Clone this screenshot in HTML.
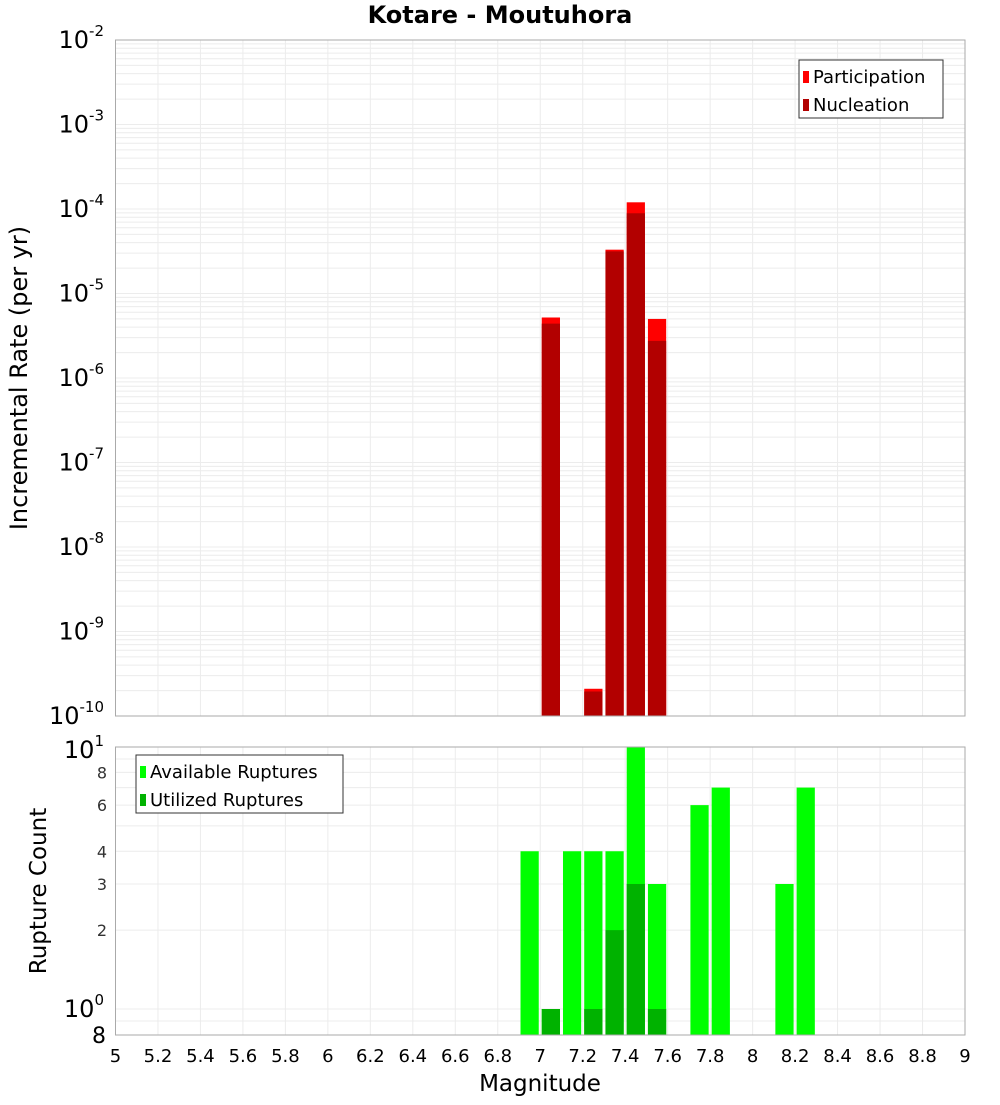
<!DOCTYPE html>
<html><head><meta charset="utf-8"><style>
body{margin:0;background:#fff;font-family:"Liberation Sans","DejaVu Sans",sans-serif}
</style></head><body>
<svg id="c" width="1000" height="1100" xmlns="http://www.w3.org/2000/svg" font-family="DejaVu Sans, Liberation Sans, sans-serif">
<text x="500" y="23" text-anchor="middle" font-size="24" font-weight="bold">Kotare - Moutuhora</text>
<g id="topg"></g><g id="botg"></g>
<text transform="translate(27,378) rotate(-90)" text-anchor="middle" font-size="24">Incremental Rate (per yr)</text>
<text transform="translate(46,891) rotate(-90)" text-anchor="middle" font-size="23">Rupture Count</text>
<text x="540" y="1091" text-anchor="middle" font-size="23">Magnitude</text>
</svg>
<script>
const mags=[7.05,7.25,7.35,7.45,7.55];
const participation=[5.2e-6,2.1e-10,3.3e-5,1.2e-4,5.0e-6];
const nucleation=[4.4e-6,1.95e-10,3.15e-5,8.9e-5,2.75e-6];
const countMags=[6.95,7.05,7.15,7.25,7.35,7.45,7.55,7.75,7.85,8.15,8.25];
const available=[4,1,4,4,4,10,3,6,7,3,7];
const utilized=[0,1,0,1,2,3,1,0,0,0,0];
const xTicks=[5,5.2,5.4,5.6,5.8,6,6.2,6.4,6.6,6.8,7,7.2,7.4,7.6,7.8,8,8.2,8.4,8.6,8.8,9];
const topExps=[-10,-9,-8,-7,-6,-5,-4,-3,-2];
const botTicks=[2,3,4,6,8];
const NS="http://www.w3.org/2000/svg";
const L=115.5,R=965,T1=40,B1=716,T2=747,B2=1035;
const xs=m=>L+(m-5)/4*(R-L);
const y1=v=>B1-(Math.log10(v)+10)/8*(B1-T1);
const y2=v=>1009-Math.log10(v)*262;
function el(p,t,a){const e=document.createElementNS(NS,t);for(const k in a)e.setAttribute(k,a[k]);p.appendChild(e);return e;}
const topG=document.getElementById('topg'),botG=document.getElementById('botg');
for(const e of topExps){for(let k=1;k<10;k++){if(e==-2&&k>1)break;const y=y1(k*Math.pow(10,e));const g=el(topG,'line',{x1:L,x2:R,y1:y,y2:y,stroke:'#ececec','stroke-width':1});

}}
for(const m of xTicks){const g=el(topG,'line',{x1:xs(m),x2:xs(m),y1:T1,y2:B1,stroke:'#ececec'});


const g2=el(botG,'line',{x1:xs(m),x2:xs(m),y1:T2,y2:B2,stroke:'#ececec'});


const t=el(botG,'text',{x:xs(m),y:1062,'text-anchor':'middle','font-size':18});t.textContent=m;

}
for(let k=1;k<=10;k++){const y=y2(k);const g=el(botG,'line',{x1:L,x2:R,y1:y,y2:y,stroke:'#ececec'});

}
const g9=el(botG,'line',{x1:L,x2:R,y1:y2(0.9),y2:y2(0.9),stroke:'#ececec'});


mags.forEach((m,i)=>{const x0=xs(m-0.05)+1.5,w=xs(m+0.05)-xs(m-0.05)-3;
const p=el(topG,'rect',{x:x0,y:y1(participation[i]),width:w,height:B1-y1(participation[i]),fill:'#ff0000'});


const n=el(topG,'rect',{x:x0,y:y1(nucleation[i]),width:w,height:B1-y1(nucleation[i]),fill:'#b20000'});

});
topExps.forEach(e=>{const t=el(topG,'text',{x:104,y:y1(Math.pow(10,e))+8,'text-anchor':'end','font-size':24});t.textContent='10';


const s=el(t,'tspan',{dy:-12,'font-size':15});s.textContent=String(e);});
const f1=el(topG,'rect',{x:L,y:T1,width:R-L,height:B1-T1,fill:'none',stroke:'#aaa'});


countMags.forEach((m,i)=>{const x0=xs(m-0.05)+1.5,w=xs(m+0.05)-xs(m-0.05)-3;
const a=el(botG,'rect',{x:x0,y:y2(available[i]),width:w,height:B2-y2(available[i]),fill:'#00ff00'});


if(utilized[i]>0){const u=el(botG,'rect',{x:x0,y:y2(utilized[i]),width:w,height:B2-y2(utilized[i]),fill:'#00b200'});

}});
botTicks.forEach(v=>{const t=el(botG,'text',{x:107,y:y2(v)+6,'text-anchor':'end','font-size':16,fill:'#333'});t.textContent=v;

});
[[1,'0',1017],[10,'1',758]].forEach(([v,e,yy])=>{const t=el(botG,'text',{x:104,y:yy,'text-anchor':'end','font-size':24});t.textContent='10';


const s=el(t,'tspan',{dy:-12,'font-size':15});s.textContent=e;});
const t8=el(botG,'text',{x:106,y:1043,'text-anchor':'end','font-size':22});t8.textContent='8';


const f2=el(botG,'rect',{x:L,y:T2,width:R-L,height:B2-T2,fill:'none',stroke:'#aaa'});


function legend(p,x,y,w,items){const b=el(p,'rect',{x:x,y:y,width:w,height:58,fill:'#fff',stroke:'#333'});


items.forEach(([c,lab],i)=>{const s=el(p,'rect',{x:x+4,y:y+11+i*28,width:6,height:12,fill:c});


const t=el(p,'text',{x:x+14,y:y+23+i*28,'font-size':18});t.textContent=lab;

});}
legend(topG,799,60,144,[['#ff0000','Participation'],['#b20000','Nucleation']]);
legend(botG,136,755,207,[['#00ff00','Available Ruptures'],['#00b200','Utilized Ruptures']]);
</script>
</body></html>
